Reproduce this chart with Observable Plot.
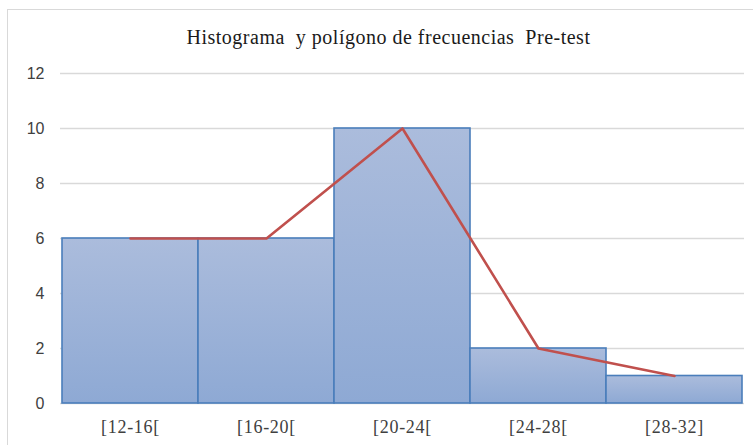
<!DOCTYPE html>
<html>
<head>
<meta charset="utf-8">
<script src="https://cdn.jsdelivr.net/npm/d3@7"></script>
<script src="https://cdn.jsdelivr.net/npm/@observablehq/plot@0.6"></script>
<style>
  html, body { margin: 0; padding: 0; background: #fff; width: 753px; height: 445px; overflow: hidden; }
  #frame { position: absolute; left: 7px; top: 9px; width: 770px; height: 460px; border: 1.5px solid #d9d9d9; box-sizing: border-box; }
  #title { position: absolute; left: 7px; width: 763px; top: 26px; text-align: center;
           font-family: "Liberation Serif", serif; font-size: 20px; letter-spacing: 0.5px; color: #1a1a1a; white-space: pre; }
  #chart { position: absolute; left: 0; top: 0; }
</style>
</head>
<body>
<div id="frame"></div>
<div id="title">Histograma  y polígono de frecuencias  Pre-test</div>
<div id="chart"></div>
<script>
const categories = ["[12-16[", "[16-20[", "[20-24[", "[24-28[", "[28-32]"];
const frequencies = [6, 6, 10, 2, 1];
const yTicks = [0, 2, 4, 6, 8, 10, 12];

const data = categories.map((c, i) => ({category: c, freq: frequencies[i]}));

const plot = Plot.plot({
  width: 753,
  height: 445,
  marginLeft: 60,
  marginRight: 9,
  marginTop: 73,
  marginBottom: 42,
  style: {background: "transparent", overflow: "visible"},
  x: {type: "band", domain: categories, padding: 0, label: null},
  y: {domain: [0, 12], ticks: yTicks, label: null},
  marks: [
    Plot.ruleY(yTicks, {stroke: "#d9d9d9", strokeWidth: 1.3}),
    Plot.barY(data, {x: "category", y: "freq", fill: "url(#barGrad)", stroke: "#4a7ebb", strokeWidth: 1.6}),
    Plot.lineY(data, {x: "category", y: "freq", stroke: "#c0504d", strokeWidth: 2.6}),
    Plot.axisY({ticks: yTicks, tickSize: 0, tickPadding: 16, fontSize: 16, fontFamily: "Liberation Sans, sans-serif", fill: "#404040", label: null}),
    Plot.axisX({tickSize: 0, tickPadding: 17, fontSize: 18, fontFamily: "Liberation Serif, serif", fill: "#404040", label: null})
  ]
});

const svg = d3.select(plot);
svg.selectAll("g[aria-label='x-axis tick label'] text").style("letter-spacing", "0.7px");
const defs = svg.insert("defs", ":first-child");
const grad = defs.append("linearGradient").attr("id", "barGrad").attr("x1", 0).attr("y1", 0).attr("x2", 0).attr("y2", 1);
grad.append("stop").attr("offset", "0%").attr("stop-color", "#abbcdc");
grad.append("stop").attr("offset", "100%").attr("stop-color", "#8ea9d4");

document.getElementById("chart").appendChild(plot);
</script>
</body>
</html>
